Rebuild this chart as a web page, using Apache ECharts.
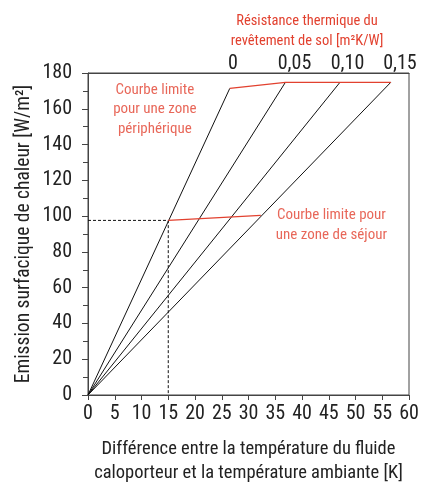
<!DOCTYPE html>
<html><head><meta charset="utf-8">
<script src="https://cdn.jsdelivr.net/npm/echarts@6/dist/echarts.min.js"></script>
<style>html,body{margin:0;padding:0;background:#fff}#c{width:428px;height:483px}</style>
</head><body><div id="c"></div>
<script>
// Data
const line0 = [[0, 0], [26.5, 171.4]];   // R = 0
const line005 = [[0, 0], [36.9, 174.8]]; // R = 0,05
const line010 = [[0, 0], [47.1, 174.8]]; // R = 0,10
const line015 = [[0, 0], [56.6, 174.8]]; // R = 0,15
const limitPeripheral = [[26.5, 171.4], [36.9, 174.8], [47.1, 174.8], [56.6, 174.8]];
const limitLiving = [[15, 97.6], [32.3, 100.4]];
const guide = [[0, 97.6], [15, 97.6], [15, 0]];
const topTickValues = [27.1, 38.6, 48.5, 58.3];
const topTickLabels = ['0', '0,05', '0,10', '0,15'];

const FONT = '"Liberation Sans Narrow","Roboto Condensed",Roboto,sans-serif';
const RED = '#e2412f';
const TXT = '#222';

const chart = echarts.init(document.getElementById('c'), null, {renderer: 'canvas'});
const blk = (d) => ({type: 'line', data: d, symbol: 'none', lineStyle: {color: '#111', width: 1}, z: 3});
chart.setOption({
  animation: false,
  textStyle: {fontFamily: FONT},
  grid: {left: 88, right: 19, top: 73, bottom: 88, show: true, borderColor: '#444', borderWidth: 1,
         containLabel: false, outerBoundsMode: 'none'},
  xAxis: [{
    type: 'value', min: 0, max: 60, interval: 5, position: 'bottom',
    axisLine: {lineStyle: {color: '#444'}},
    axisTick: {show: true, length: 5, lineStyle: {color: '#444'}},
    splitLine: {show: false},
    axisLabel: {color: TXT, fontSize: 20, fontFamily: FONT, margin: 9},
    name: 'Différence entre la température du fluide\ncaloporteur et la température ambiante [K]',
    nameLocation: 'middle', nameGap: 42.5,
    nameTextStyle: {color: TXT, fontSize: 18.5, fontFamily: FONT, lineHeight: 24}
  }, {
    type: 'value', min: 0, max: 60, position: 'top',
    axisLine: {show: true, lineStyle: {color: '#444'}},
    axisTick: {show: false},
    splitLine: {show: false},
    axisLabel: {
      color: TXT, fontSize: 20, fontFamily: FONT, margin: -1,
      customValues: topTickValues,
      formatter: (v) => { const i = topTickValues.indexOf(v); return i >= 0 ? topTickLabels[i] : ''; }
    },
    name: 'Résistance thermique du\nrevêtement de sol [m²K/W]',
    nameLocation: 'middle', nameGap: 22, nameMoveOverlap: false,
    nameTextStyle: {color: RED, fontSize: 14.5, fontFamily: FONT, lineHeight: 20, padding: [0, 0, 0, 117]}
  }],
  yAxis: [{
    type: 'value', min: 0, max: 180, interval: 20,
    axisLine: {show: true, lineStyle: {color: '#444'}},
    axisTick: {show: true, length: 6, lineStyle: {color: '#444'}},
    minorTick: {show: true, splitNumber: 2, length: 5, lineStyle: {color: '#444'}},
    splitLine: {show: false},
    axisLabel: {color: TXT, fontSize: 20, fontFamily: FONT, margin: 16},
    name: 'Emission surfacique de chaleur [W/m²]',
    nameLocation: 'middle', nameGap: 54, nameRotate: 90, nameMoveOverlap: false,
    nameTextStyle: {color: TXT, fontSize: 19.5, fontFamily: FONT}
  }],
  series: [
    blk(line0), blk(line005), blk(line010), blk(line015),
    {type: 'line', data: limitPeripheral, symbol: 'none', lineStyle: {color: RED, width: 1.3}, z: 4},
    {type: 'line', data: limitLiving, symbol: 'none', lineStyle: {color: RED, width: 1.3}, z: 4},
    {type: 'line', data: guide, symbol: 'none', lineStyle: {color: '#111', width: 1, type: [3, 2]}, z: 2},
    {type: 'scatter', symbolSize: 0, silent: true,
     data: [{value: [12.5, 159.5], label: {formatter: 'Courbe limite\npour une zone\npériphérique'}},
            {value: [45.5, 95], label: {formatter: 'Courbe limite pour\nune zone de séjour'}}],
     label: {show: true, position: 'inside', color: RED, fontSize: 15, fontFamily: FONT, lineHeight: 19.5, align: 'center'}}
  ]
});
</script></body></html>
